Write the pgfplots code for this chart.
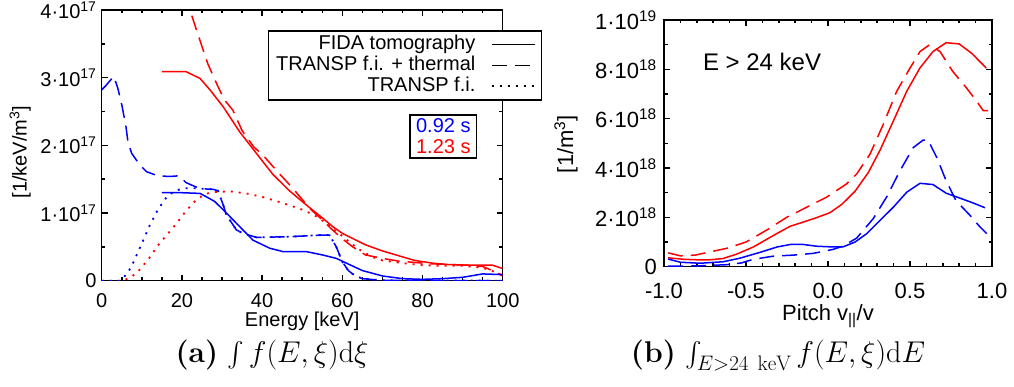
\RequirePackage{fix-cm}
\documentclass[border=0pt]{standalone}
\usepackage{exscale}
\usepackage{fontspec}
\usepackage{pgfplots}
\pgfplotsset{compat=1.18}
\newfontfamily\hel{Liberation Sans}
\newcommand\fA{\hel\fontsize{20}{24}\selectfont}
\newcommand\fB{\hel\fontsize{22}{26}\selectfont}
\newcommand\fC{\hel\fontsize{24}{28}\selectfont}
\definecolor{ired}{RGB}{255,0,0}
\definecolor{iblue}{RGB}{0,0,255}
\pgfplotsset{
 idl/.style={scale only axis, axis line style={line width=1.5pt}, tick style={line width=1.5pt, black},
   major tick length=6pt, minor tick length=3.5pt, tick align=inside, scaled ticks=false,
   tick label style={inner sep=0pt}},
 solidl/.style={line width=1.5pt, solid},
 dashl/.style={line width=1.5pt, dash pattern=on 15pt off 8pt},
 dotl/.style={line width=1.8pt, dash pattern=on 2pt off 6pt},
}
\begin{document}
\begin{tikzpicture}
\path[use as bounding box] (0pt,0pt) rectangle (1014pt,387pt);
% ---------------- left panel ----------------
\begin{axis}[idl, at={(101.7pt,106.3pt)}, anchor=south west, width=401pt, height=270.7pt,
 xmin=0, xmax=100, ymin=0, ymax=4e17,
 xtick={0,20,40,60,80,100}, xticklabels={0,20,40,60,80,100}, minor x tick num=3,
 ytick={0,1e17,2e17,3e17,4e17},
 yticklabels={0,1·10\textsuperscript{17},2·10\textsuperscript{17},3·10\textsuperscript{17},4·10\textsuperscript{17}},
 minor y tick num=1,
 tick label style={font=\fA},
 xticklabel style={yshift=-13pt}, yticklabel style={xshift=-5pt},
 xlabel={Energy [keV]}, ylabel={[1/keV/m\textsuperscript{3}]},
 label style={font=\fA},
 xlabel style={at={(axis description cs:0.5,-0.171)}, anchor=base},
 ylabel style={at={(axis description cs:-0.203,0.475)}, anchor=center},
 legend style={at={(axis description cs:0.4147,0.926)}, anchor=north west, draw=black, line width=1.5pt,
   fill=white, font=\fA, inner xsep=6pt, inner ysep=3pt, row sep=0pt,
   nodes={inner sep=1.5pt, text height=14pt, text depth=4pt}},
 legend cell align=right, legend plot pos=right,
 legend image code/.code={\draw[#1] (0pt,0pt) -- (43pt,0pt);},
]
\addlegendimage{black, solidl}
\addlegendentry{FIDA tomography\hspace*{14pt}}
\addlegendimage{black, dashl}
\addlegendentry{TRANSP f.i. + thermal\hspace*{14pt}}
\addlegendimage{black, dotl}
\addlegendentry{TRANSP f.i.\hspace*{14pt}}
% red 1.23 s
\addplot[ired, solidl, forget plot] coordinates {(15,3.09e17)(21,3.09e17)(24.5,2.99e17)(27,2.82e17)(30.3,2.57e17)(34.4,2.20e17)(38.6,1.88e17)(42.7,1.57e17)(46.8,1.33e17)(51,1.12e17)(55,0.93e17)(57.6,0.80e17)(60,0.70e17)(65.8,0.53e17)(70,0.44e17)(74,0.37e17)(78,0.30e17)(82.4,0.26e17)(86,0.24e17)(91,0.23e17)(95,0.23e17)(97.4,0.23e17)(100,0.18e17)};
\addplot[ired, dashl, forget plot] coordinates {(18,4.9e17)(22,4.0e17)(24.5,3.55e17)(26.5,3.2e17)(28.6,2.92e17)(30.5,2.68e17)(32.7,2.52e17)(35,2.22e17)(38,1.97e17)(40,1.87e17)(44,1.60e17)(47.6,1.37e17)(52,1.06e17)(55,0.90e17)(57,0.78e17)(60,0.62e17)(62.6,0.50e17)(65.8,0.38e17)(70,0.33e17)(74,0.29e17)(82,0.25e17)(91,0.23e17)(95,0.21e17)(97,0.16e17)(100,0.07e17)};
\addplot[ired, dotl, forget plot] coordinates {(0,0)(5,0)(7,0.04e17)(9,0.13e17)(11.8,0.33e17)(14,0.52e17)(16.6,0.70e17)(19,0.87e17)(21,1.03e17)(23.5,1.19e17)(25.7,1.28e17)(28,1.31e17)(32,1.32e17)(36,1.29e17)(40,1.24e17)(45,1.15e17)(50,1.05e17)(53,0.97e17)(56,0.85e17)(58,0.75e17)(60,0.66e17)(62,0.56e17)(65,0.43e17)(68,0.34e17)(70,0.30e17)(75,0.26e17)(80,0.23e17)(85,0.22e17)(90,0.22e17)(95,0.19e17)(98,0.13e17)(100,0.08e17)};
% blue 0.92 s
\addplot[iblue, solidl, forget plot] coordinates {(15,1.30e17)(20,1.30e17)(24.5,1.29e17)(26.1,1.24e17)(28.2,1.17e17)(31.1,1.0e17)(34.4,0.80e17)(37.7,0.60e17)(41.9,0.48e17)(45.2,0.43e17)(51,0.43e17)(55.1,0.38e17)(58.5,0.33e17)(61,0.26e17)(65,0.15e17)(70,0.07e17)(75,0.03e17)(80,0.02e17)(85,0.03e17)(90,0.05e17)(95,0.10e17)(100,0.09e17)};
\addplot[iblue, dashl, forget plot] coordinates {(0,2.82e17)(1,2.88e17)(3,3.02e17)(4,2.85e17)(5,2.6e17)(6,2.3e17)(6.6,2.03e17)(7.5,1.88e17)(9.5,1.71e17)(11.2,1.61e17)(14,1.55e17)(17,1.54e17)(19.3,1.55e17)(21,1.45e17)(24.5,1.36e17)(27.8,1.35e17)(29,1.33e17)(30.3,1.12e17)(31.1,0.97e17)(33.6,0.75e17)(35.2,0.70e17)(38.6,0.64e17)(46.8,0.65e17)(55,0.675e17)(56.8,0.675e17)(58.5,0.5e17)(60,0.28e17)(61.5,0.15e17)(63,0.08e17)(65,0.03e17)(70,0.005e17)(100,0)};
\addplot[iblue, dotl, forget plot] coordinates {(0,0)(4.5,0)(5.5,0.05e17)(6.5,0.12e17)(7.5,0.22e17)(8.5,0.35e17)(10,0.55e17)(12,0.82e17)(14,1.05e17)(16,1.22e17)(18,1.32e17)(20,1.36e17)(22,1.37e17)(24.5,1.36e17)(27.8,1.35e17)(29,1.33e17)(30.3,1.12e17)(31.1,0.97e17)(33.6,0.75e17)(35.2,0.70e17)(38.6,0.64e17)(46.8,0.65e17)(55,0.675e17)(56.8,0.675e17)(58.5,0.5e17)(60,0.28e17)(61.5,0.15e17)(63,0.08e17)(65,0.03e17)(70,0.005e17)(100,0)};
\node[draw=black, line width=1.5pt, fill=white, align=right, font=\fA, inner xsep=6pt, inner ysep=4pt]
  at (axis description cs:0.852,0.533) {\textcolor{iblue}{0.92 s}\\[-3pt]\textcolor{ired}{1.23 s}};
\end{axis}
% ---------------- right panel ----------------
\begin{axis}[idl, at={(664pt,120.3pt)}, anchor=south west, width=328pt, height=246.7pt,
 xmin=-1, xmax=1, ymin=0, ymax=1e19,
 xtick={-1,-0.5,0,0.5,1}, xticklabels={-1.0,-0.5,0.0,0.5,1.0}, minor x tick num=4,
 ytick={0,2e18,4e18,6e18,8e18,1e19},
 yticklabels={0,2·10\textsuperscript{18},4·10\textsuperscript{18},6·10\textsuperscript{18},8·10\textsuperscript{18},1·10\textsuperscript{19}},
 minor y tick num=1,
 tick label style={font=\fB},
 xticklabel style={yshift=-16pt}, yticklabel style={xshift=-7pt},
 xlabel={Pitch v\textsubscript{||}/v}, ylabel={[1/m\textsuperscript{3}]},
 label style={font=\fB},
 xlabel style={at={(axis description cs:0.5,-0.220)}, anchor=base},
 ylabel style={at={(axis description cs:-0.299,0.497)}, anchor=center},
]
\addplot[ired, solidl] coordinates {(-0.975,0.36e18)(-0.88,0.30e18)(-0.8,0.28e18)(-0.72,0.28e18)(-0.64,0.33e18)(-0.557,0.51e18)(-0.455,0.80e18)(-0.313,1.34e18)(-0.23,1.64e18)(-0.15,1.81e18)(-0.069,1.99e18)(0.012,2.19e18)(0.083,2.52e18)(0.165,3.06e18)(0.246,3.82e18)(0.317,4.72e18)(0.398,5.90e18)(0.48,7.11e18)(0.56,8.05e18)(0.64,8.72e18)(0.72,9.08e18)(0.80,9.03e18)(0.876,8.65e18)(0.965,8.05e18)};
\addplot[ired, dashl] coordinates {(-0.975,0.56e18)(-0.90,0.44e18)(-0.81,0.47e18)(-0.72,0.60e18)(-0.62,0.74e18)(-0.50,1.0e18)(-0.375,1.48e18)(-0.25,2.01e18)(-0.13,2.41e18)(-0.008,2.82e18)(0.114,3.36e18)(0.175,3.76e18)(0.256,4.56e18)(0.337,5.77e18)(0.419,7.11e18)(0.5,8.05e18)(0.561,8.72e18)(0.62,9.0e18)(0.683,8.72e18)(0.76,7.92e18)(0.845,7.24e18)(0.906,6.71e18)(0.946,6.33e18)(0.977,6.33e18)};
\addplot[iblue, solidl] coordinates {(-0.975,0.31e18)(-0.90,0.18e18)(-0.78,0.14e18)(-0.64,0.20e18)(-0.54,0.34e18)(-0.415,0.58e18)(-0.31,0.80e18)(-0.23,0.90e18)(-0.15,0.90e18)(-0.07,0.83e18)(0.03,0.80e18)(0.09,0.80e18)(0.165,1.0e18)(0.236,1.34e18)(0.317,1.88e18)(0.398,2.41e18)(0.48,3.02e18)(0.561,3.38e18)(0.64,3.33e18)(0.72,2.98e18)(0.80,2.79e18)(0.886,2.58e18)(0.957,2.39e18)};
\addplot[iblue, dashl] coordinates {(-0.975,0.02e18)(-0.80,0.03e18)(-0.62,0.08e18)(-0.53,0.15e18)(-0.455,0.30e18)(-0.33,0.43e18)(-0.21,0.47e18)(-0.09,0.54e18)(0.03,0.70e18)(0.09,0.83e18)(0.175,1.16e18)(0.276,1.95e18)(0.357,2.82e18)(0.439,3.89e18)(0.52,4.83e18)(0.58,5.13e18)(0.61,5.13e18)(0.663,4.43e18)(0.72,3.49e18)(0.78,2.68e18)(0.866,2.08e18)(0.927,1.61e18)(0.977,1.28e18)};
\node[font=\fC] at (axis description cs:0.299,0.831) {E > 24 keV};
\end{axis}
% captions
\node[anchor=base, font=\fontsize{30}{36}\selectfont] at (272pt,24pt) {\textbf{(a)} $\int f(E,\xi)\mathrm{d}\xi$};
\node[anchor=base, font=\fontsize{30}{36}\selectfont] at (778pt,24pt) {\textbf{(b)} $\int_{E>24\ \mathrm{keV}} f(E,\xi)\mathrm{d}E$};
\end{tikzpicture}
\end{document}
